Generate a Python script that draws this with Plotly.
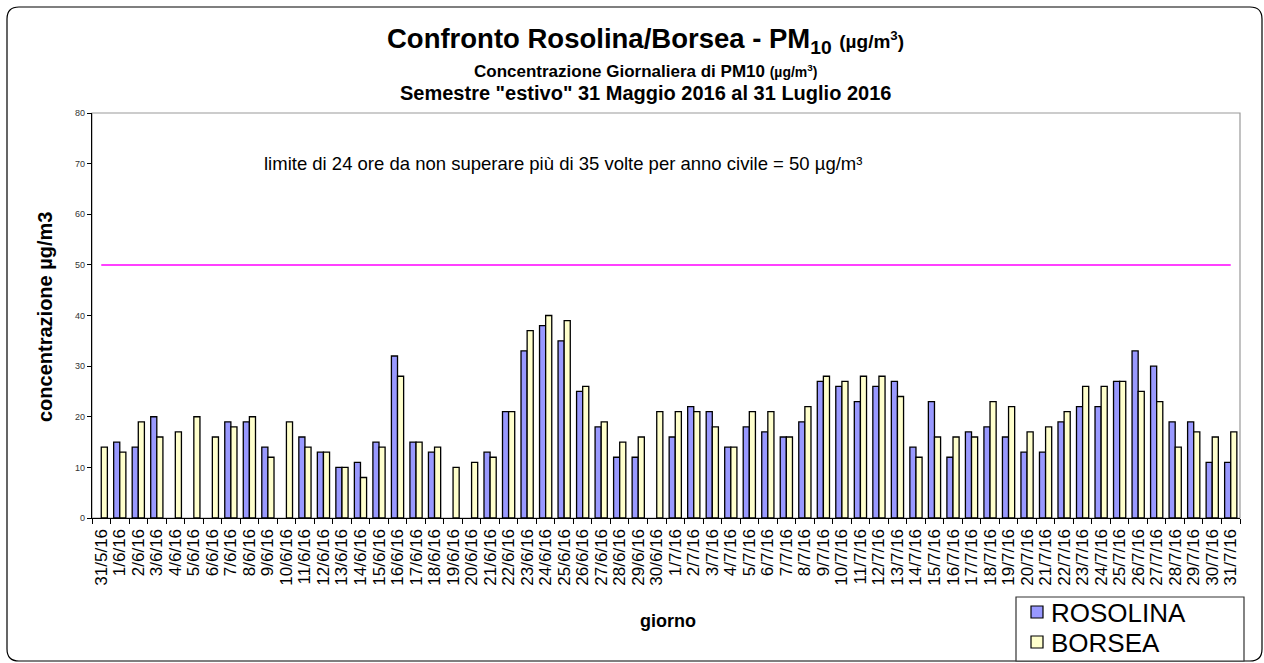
import plotly.graph_objects as go

days = ["31/5/16", "1/6/16", "2/6/16", "3/6/16", "4/6/16", "5/6/16", "6/6/16", "7/6/16",
        "8/6/16", "9/6/16", "10/6/16", "11/6/16", "12/6/16", "13/6/16", "14/6/16", "15/6/16",
        "16/6/16", "17/6/16", "18/6/16", "19/6/16", "20/6/16", "21/6/16", "22/6/16", "23/6/16",
        "24/6/16", "25/6/16", "26/6/16", "27/6/16", "28/6/16", "29/6/16", "30/6/16",
        "1/7/16", "2/7/16", "3/7/16", "4/7/16", "5/7/16", "6/7/16", "7/7/16", "8/7/16",
        "9/7/16", "10/7/16", "11/7/16", "12/7/16", "13/7/16", "14/7/16", "15/7/16", "16/7/16",
        "17/7/16", "18/7/16", "19/7/16", "20/7/16", "21/7/16", "22/7/16", "23/7/16", "24/7/16",
        "25/7/16", "26/7/16", "27/7/16", "28/7/16", "29/7/16", "30/7/16", "31/7/16"]

rosolina = [None, 15, 14, 20, None, None, None, 19, 19, 14, None, 16, 13, 10, 11, 15,
            32, 15, 13, None, None, 13, 21, 33, 38, 35, 25, 18, 12, 12, None,
            16, 22, 21, 14, 18, 17, 16, 19, 27, 26, 23, 26, 27, 14, 23, 12,
            17, 18, 16, 13, 13, 19, 22, 22, 27, 33, 30, 19, 19, 11, 11]

borsea = [14, 13, 19, 16, 17, 20, 16, 18, 20, 12, 19, 14, 13, 10, 8, 14,
          28, 15, 14, 10, 11, 12, 21, 37, 40, 39, 26, 19, 15, 16, 21,
          21, 21, 18, 14, 21, 21, 16, 22, 28, 27, 28, 28, 24, 12, 16, 16,
          16, 23, 22, 17, 18, 21, 26, 26, 27, 25, 23, 14, 17, 16, 17]

limite = [50] * len(days)

series_names = ["ROSOLINA", "BORSEA"]
series_colors = ["#9999FF", "#FFFFCC"]
FONT = "Liberation Sans, Arial, sans-serif"

# plot area in pixels
L, R, T, B = 92, 1240, 113, 518
W, H = 1264, 663


def px(x):
    return (x - L) / (R - L)


def py(y):
    return (B - y) / (B - T)


fig = go.Figure()
for nm, col, vals in zip(series_names, series_colors, (rosolina, borsea)):
    fig.add_trace(go.Bar(x=days, y=vals, name=nm, showlegend=False,
                         marker=dict(color=col, line=dict(color="black", width=1.3))))
fig.add_trace(go.Scatter(x=days, y=limite, mode="lines", showlegend=False,
                         line=dict(color="#FF00FF", width=1.5), hoverinfo="skip"))

# rounded outer frame
x0, x1, y0, y1 = px(7), px(1262), py(7), py(661)
rx, ry = 12 / (R - L), 12 / (B - T)
frame = (f"M{x0+rx},{y0} L{x1-rx},{y0} Q{x1},{y0} {x1},{y0-ry} "
         f"L{x1},{y1+ry} Q{x1},{y1} {x1-rx},{y1} "
         f"L{x0+rx},{y1} Q{x0},{y1} {x0},{y1+ry} "
         f"L{x0},{y0-ry} Q{x0},{y0} {x0+rx},{y0} Z")

shapes = [
    dict(type="path", path=frame, xref="paper", yref="paper",
         line=dict(color="black", width=1.2), layer="below"),
    dict(type="rect", x0=0, x1=1, y0=0, y1=1, xref="paper", yref="paper",
         line=dict(color="#999999", width=1.2), layer="below"),
    dict(type="rect", x0=px(1016), x1=px(1244), y0=py(597), y1=py(661),
         xref="paper", yref="paper", line=dict(color="#333333", width=1.2),
         fillcolor="white", layer="below"),
]

annotations = [
    dict(text="<b>Confronto Rosolina/Borsea - PM<sub>10</sub> <span style='font-size:19px'>(µg/m<sup>3</sup>)</span></b>",
         x=px(645), y=py(40), xref="paper", yref="paper", showarrow=False,
         xanchor="center", yanchor="middle",
         font=dict(family=FONT, size=27.5, color="black")),
    dict(text="<b>Concentrazione Giornaliera di PM10 <span style='font-size:14px'>(µg/m<sup>3</sup>)</span></b>",
         x=px(645), y=py(71), xref="paper", yref="paper", showarrow=False,
         xanchor="center", yanchor="middle",
         font=dict(family=FONT, size=17, color="black")),
    dict(text="<b>Semestre \"estivo\" 31 Maggio 2016 al 31 Luglio 2016</b>",
         x=px(645), y=py(93), xref="paper", yref="paper", showarrow=False,
         xanchor="center", yanchor="middle",
         font=dict(family=FONT, size=20, color="black")),
    dict(text="limite di 24 ore da non superare più di 35 volte per anno civile = 50 µg/m³",
         x=px(262), y=py(163), xref="paper", yref="paper", showarrow=False,
         xanchor="left", yanchor="middle",
         font=dict(family=FONT, size=18.5, color="black")),
    dict(text="<b>concentrazione µg/m3</b>", textangle=-90,
         x=px(45), y=py(317), xref="paper", yref="paper", showarrow=False,
         xanchor="center", yanchor="middle",
         font=dict(family=FONT, size=20, color="black")),
    dict(text="<b>giorno</b>",
         x=px(668), y=py(621), xref="paper", yref="paper", showarrow=False,
         xanchor="center", yanchor="middle",
         font=dict(family=FONT, size=18, color="black")),
]

# legend drawn as swatches + labels inside the legend box
for i, (nm, col) in enumerate(zip(series_names, series_colors)):
    cy = 612 + 30 * i
    shapes.append(dict(type="rect", x0=px(1031), x1=px(1043), y0=py(cy - 6), y1=py(cy + 6),
                       xref="paper", yref="paper", fillcolor=col,
                       line=dict(color="black", width=1.2)))
    annotations.append(dict(text=nm, x=px(1049), y=py(cy + 1), xref="paper", yref="paper",
                            showarrow=False, xanchor="left", yanchor="middle",
                            font=dict(family=FONT, size=26, color="black")))

fig.update_layout(
    width=W, height=H,
    margin=dict(l=L, r=W - R, t=T, b=H - B, pad=0),
    paper_bgcolor="white", plot_bgcolor="white",
    barmode="group", bargap=0.34, bargroupgap=0,
    font=dict(family=FONT, color="black"),
    shapes=shapes, annotations=annotations,
    showlegend=False,
    xaxis=dict(type="category", tickmode="linear", dtick=1, tickangle=-90,
               tickson="boundaries", ticks="outside", ticklen=5, tickcolor="black",
               ticklabelstandoff=3,
               showline=True, linecolor="black", linewidth=1.3,
               showgrid=False, zeroline=False, automargin=False,
               tickfont=dict(family=FONT, size=17, color="black")),
    yaxis=dict(range=[0, 80], tickmode="linear", tick0=0, dtick=10,
               ticks="outside", ticklen=4, tickcolor="black",
               showline=True, linecolor="black", linewidth=1.3,
               showgrid=False, zeroline=False, automargin=False,
               tickfont=dict(family=FONT, size=9, color="#333333")),
)

fig.write_html("out.html", config={"displayModeBar": False},
               post_script="document.body.style.margin='0';document.body.style.overflow='hidden';")
